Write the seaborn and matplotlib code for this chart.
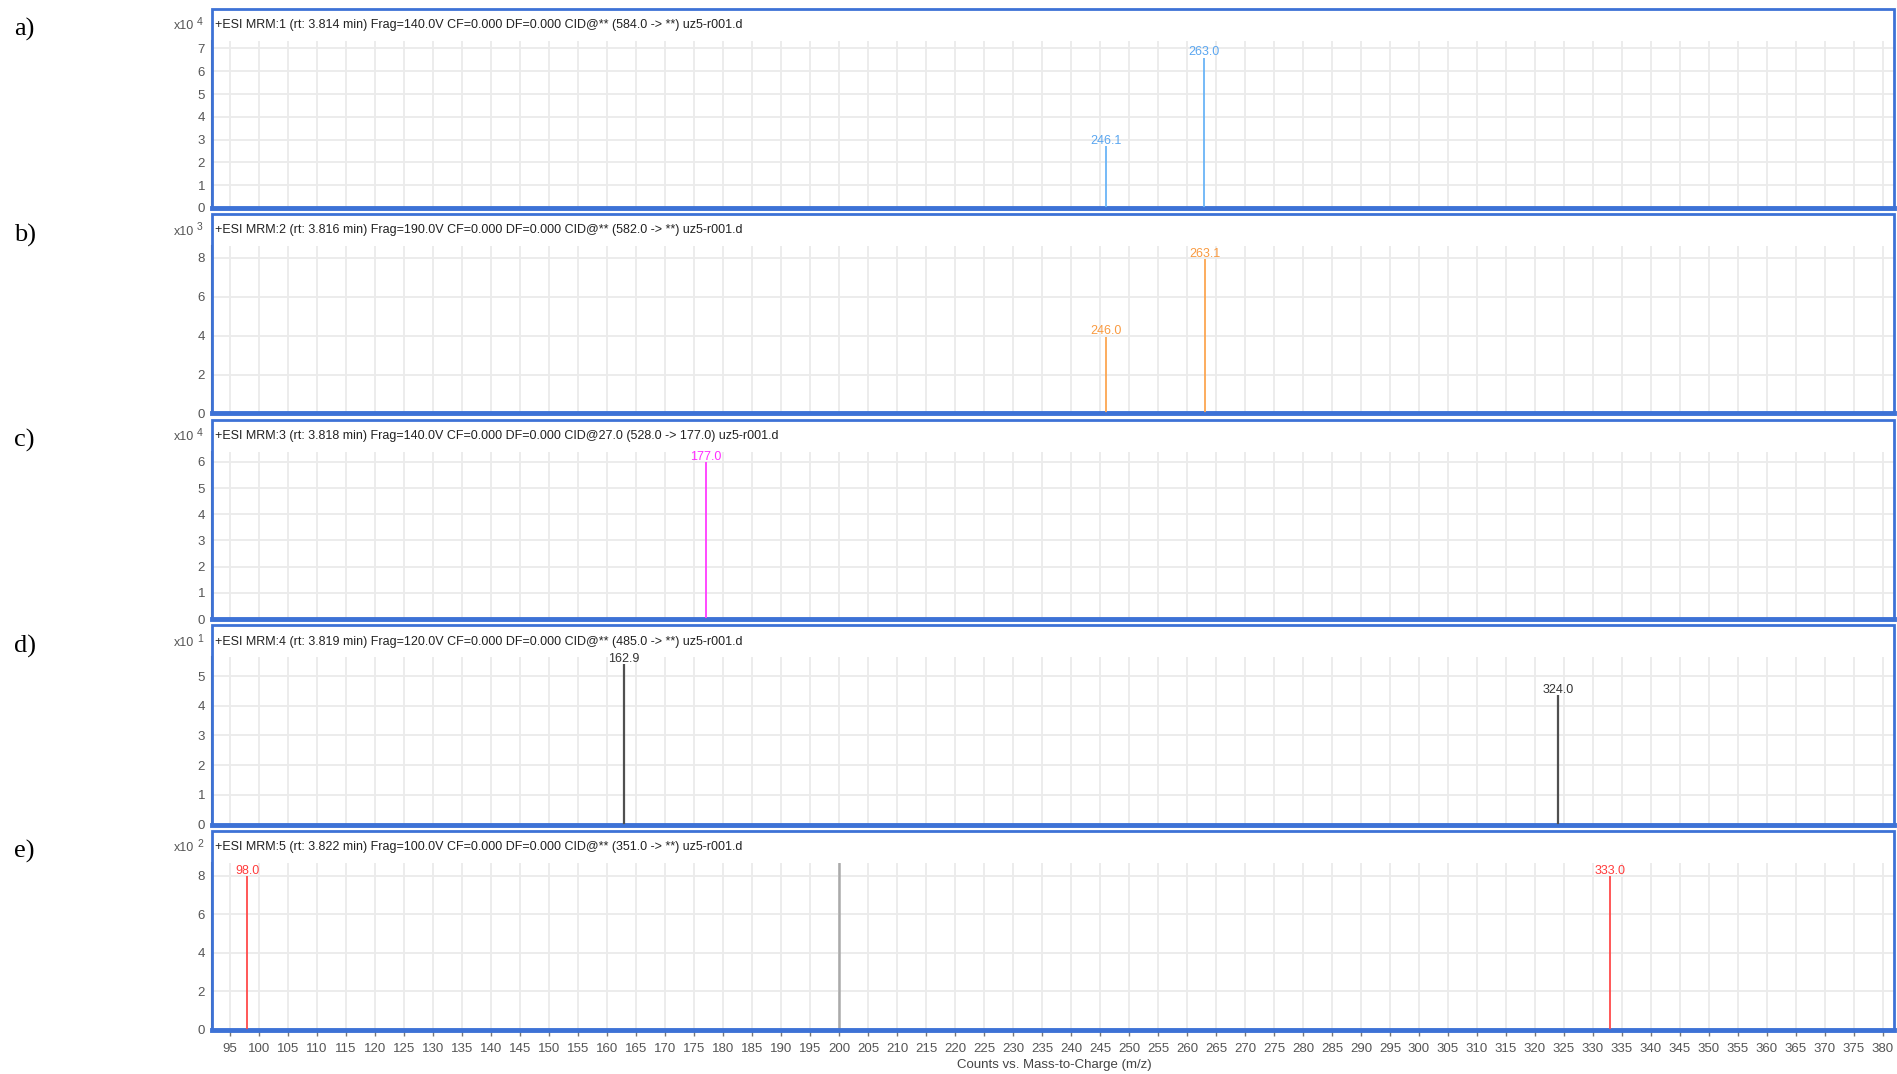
import matplotlib
matplotlib.use("Agg")
import matplotlib.pyplot as plt
from matplotlib.patches import Rectangle
import numpy as np
import pandas as pd
import seaborn as sns

# panel text
panel_tags = ["a)", "b)", "c)", "d)", "e)"]
headers = [
    "+ESI MRM:1 (rt: 3.814 min) Frag=140.0V CF=0.000 DF=0.000 CID@** (584.0 -> **) uz5-r001.d",
    "+ESI MRM:2 (rt: 3.816 min) Frag=190.0V CF=0.000 DF=0.000 CID@** (582.0 -> **) uz5-r001.d",
    "+ESI MRM:3 (rt: 3.818 min) Frag=140.0V CF=0.000 DF=0.000 CID@27.0 (528.0 -> 177.0) uz5-r001.d",
    "+ESI MRM:4 (rt: 3.819 min) Frag=120.0V CF=0.000 DF=0.000 CID@** (485.0 -> **) uz5-r001.d",
    "+ESI MRM:5 (rt: 3.822 min) Frag=100.0V CF=0.000 DF=0.000 CID@** (351.0 -> **) uz5-r001.d",
]
exponents = [4, 3, 4, 1, 2]
peak_colors = ["#6ab4f7", "#fca651", "#ff3cff", "#505050", "#ff4a4a"]
label_colors = ["#5aa6f0", "#f99a40", "#ff2cff", "#333333", "#ff3c3c"]

# peaks (intensity in units of 10^exponent)
mz_a = [246.1, 263.0]
int_a = [2.7, 6.6]
mz_b = [246.0, 263.1]
int_b = [3.95, 7.93]
mz_c = [177.0]
int_c = [6.0]
mz_d = [162.9, 324.0]
int_d = [5.4, 4.35]
mz_e = [98.0, 333.0]
int_e = [8.0, 8.0]
marker_mz_e = 200.0

y_ticks = [list(range(0, 8)), list(range(0, 9, 2)), list(range(0, 7)),
           list(range(0, 6)), list(range(0, 9, 2))]
y_top = [7.35, 8.6, 6.4, 5.64, 8.7]
x_ticks = list(range(95, 381, 5))

rows = []
for i, (mz, inten) in enumerate([(mz_a, int_a), (mz_b, int_b), (mz_c, int_c),
                                 (mz_d, int_d), (mz_e, int_e)]):
    for m, v in zip(mz, inten):
        rows.append({"panel": i, "mz": m, "intensity": v})
peaks = pd.DataFrame(rows)

sns.set_style("white")
plt.rcParams['font.family'] = ['Liberation Sans', 'DejaVu Sans']

W, H = 1897, 1074
fig = plt.figure(figsize=(W / 100, H / 100), dpi=100)

box_left, box_right = 212, 1894
step = 205.5
header_h = 32
blue = "#3d72d6"
grid_c = "#ebebeb"
tick_c = "#555555"

for i in range(5):
    top = 8.5 + step * i
    bottom = 208 + step * i
    ax = fig.add_axes([box_left / W, 1 - bottom / H, (box_right - box_left) / W,
                       (bottom - top - header_h) / H])
    ax.set_xlim(91.9, 381.9)
    ax.set_ylim(0, y_top[i])
    ax.set_xticks(x_ticks)
    ax.set_yticks(y_ticks[i])
    ax.grid(True, color=grid_c, lw=1.3)
    ax.set_axisbelow(True)
    for s in ["top", "right"]:
        ax.spines[s].set_visible(False)
    ax.spines["left"].set_color("#666666")
    ax.spines["left"].set_linewidth(1.5)
    ax.spines["bottom"].set_color(blue)
    ax.spines["bottom"].set_linewidth(3.5)
    ax.tick_params(axis="y", direction="out", length=4, width=1, color="#777777",
                   labelsize=9.5, labelcolor=tick_c, pad=1)
    if i == 4:
        ax.tick_params(axis="x", direction="out", length=4, width=1, color="#777777",
                       labelsize=9.5, labelcolor=tick_c, pad=5, bottom=True)
    else:
        ax.tick_params(axis="x", bottom=False, labelbottom=False)

    sub = peaks[peaks["panel"] == i]
    lw = 1.6 if i == 3 else 1.3
    if i == 4:
        ax.axvline(marker_mz_e, color="#aaaaaa", lw=1.8, zorder=2)
    ax.vlines(sub["mz"], 0, sub["intensity"], color=peak_colors[i], lw=lw, zorder=3)
    for _, r in sub.iterrows():
        ax.annotate(f"{r['mz']:.1f}", (r["mz"], r["intensity"]), xytext=(0, -0.5),
                    textcoords="offset points", ha="center", va="bottom",
                    fontsize=9, color=label_colors[i], zorder=4)

    # blue panel frame
    fig.patches.append(Rectangle((box_left / W, 1 - bottom / H), (box_right - box_left) / W,
                                 (bottom - top) / H, transform=fig.transFigure,
                                 fill=False, edgecolor=blue, lw=2, zorder=5))
    fig.text(215 / W, 1 - (top + 16.5) / H, headers[i], fontsize=9, color="#222222",
             ha="left", va="center")
    fig.text(194 / W, 1 - (top + 17.5) / H, "x10", fontsize=9, color=tick_c,
             ha="right", va="center")
    fig.text(197 / W, 1 - (top + 13.5) / H, str(exponents[i]), fontsize=7.5, color=tick_c,
             ha="left", va="center")
    fig.text(14 / W, 1 - (top + 21) / H, panel_tags[i], fontsize=19, color="black",
             family=["Liberation Serif", "DejaVu Serif"], ha="left", va="center")

fig.text(1054 / W, 1 - 1065 / H, "Counts vs. Mass-to-Charge (m/z)", fontsize=9.5,
         color="#444444", ha="center", va="center")

fig.savefig("out.png", dpi=100)
